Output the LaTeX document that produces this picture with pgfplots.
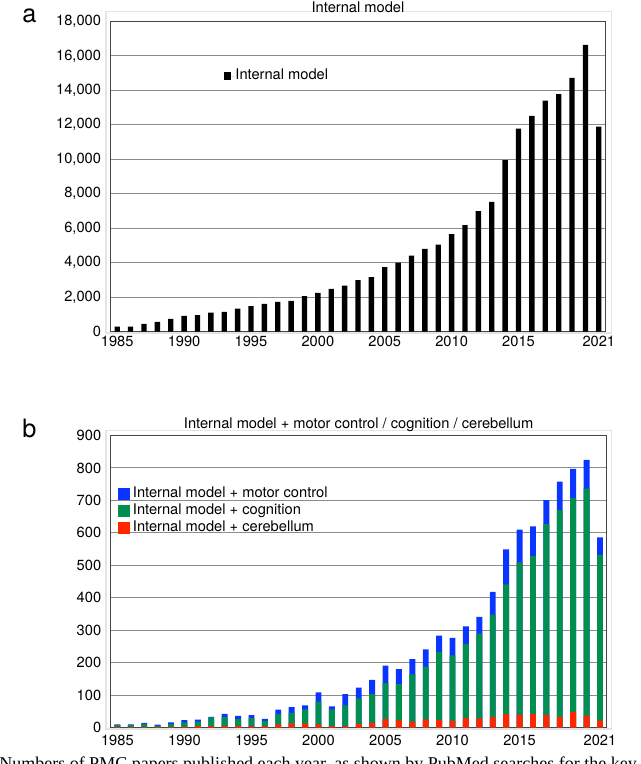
\documentclass[border=0pt]{standalone}
\usepackage{pgfplots}
\usepackage{pgfplotstable}
\pgfplotsset{compat=1.18}
\usepackage{fontspec}
\setmainfont{TeX Gyre Heros}
\newfontfamily\captionserif{Liberation Serif}

\definecolor{imBlue}{RGB}{10,52,255}
\definecolor{imGreen}{RGB}{0,143,78}
\definecolor{imRed}{RGB}{255,38,0}
\definecolor{gridgray}{RGB}{140,140,140}
\definecolor{framegray}{RGB}{70,70,70}
\definecolor{outergray}{RGB}{228,228,228}

% PMC papers per year, "internal model"
\pgfplotstableread{
year count
1985 290
1986 290
1987 445
1988 560
1989 735
1990 910
1991 950
1992 1100
1993 1140
1994 1335
1995 1470
1996 1605
1997 1720
1998 1780
1999 2050
2000 2245
2001 2475
2002 2670
2003 2980
2004 3155
2005 3735
2006 4005
2007 4410
2008 4800
2009 5050
2010 5650
2011 6175
2012 6985
2013 7530
2014 9950
2015 11785
2016 12520
2017 13410
2018 13780
2019 14730
2020 16645
2021 11900
}\internalmodel

% "internal model" combined with a second keyword
\pgfplotstableread{
year motor cognition cerebellum
1985 10 7 3
1986 10 7 2
1987 14 11 2
1988 9 6 2
1989 16 11 2
1990 23 16 3
1991 24 18 4
1992 33 31 4
1993 42 32 6
1994 36 26 5
1995 38 30 5
1996 27 20 4
1997 55 41 10
1998 63 45 13
1999 68 56 13
2000 108 80 10
2001 65 56 4
2002 103 68 5
2003 123 90 12
2004 147 104 14
2005 191 137 27
2006 180 134 22
2007 211 164 18
2008 241 188 25
2009 283 233 23
2010 276 222 21
2011 312 257 29
2012 341 289 28
2013 418 348 33
2014 549 441 41
2015 610 509 39
2016 620 529 41
2017 701 627 38
2018 758 670 33
2019 797 707 48
2020 825 736 37
2021 586 532 21
}\combined

\pgfplotsset{
  yearpanel/.style={
    scale only axis,
    xmin=1984.5, xmax=2021.5, ymin=0,
    xtick={1985,1990,1995,2000,2005,2010,2015,2021},
    x tick label style={/pgf/number format/1000 sep={}},
    scaled y ticks=false,
    major tick length=0pt,
    ymajorgrids,
    grid style={gridgray, line width=0.75pt},
    axis line style={framegray, line width=0.75pt},
    tick label style={font=\fontsize{11}{13}\selectfont},
    y tick label style={xshift=-3.6pt},
    /pgf/number format/assume math mode=true,
    legend cell align=left,
    legend style={draw=none, fill=none, inner sep=0pt,
      font=\fontsize{11}{13}\selectfont,
      nodes={inner sep=1pt, text height=8.3pt, text depth=2.5pt}},
  },
}

\begin{document}
\begin{tikzpicture}
  % light chart-area frames
  \draw[outergray, line width=0.9pt] (79.5pt,-8.8pt) rectangle (458.8pt,-249.75pt);
  \draw[outergray, line width=0.9pt] (79.5pt,-323pt) rectangle (458.8pt,-546.75pt);

  % panel a
  \begin{axis}[yearpanel,
      at={(82.875pt,-248.625pt)}, anchor=south west,
      width=371.25pt, height=232.5pt,
      ymax=18000, ytick={0,2000,...,18000},
      y tick label style={/pgf/number format/.cd, fixed, 1000 sep={,}},
      legend style={at={(0.229,0.824)}, anchor=west}]
    \addplot[ybar, bar width=0.4, bar shift=0pt, fill=black, draw=none,
      legend image code/.code={\fill[black] (0pt,-2.75pt) rectangle (5.5pt,2.75pt); \path (0pt,0pt) -- (7.5pt,0pt);}]
      table[x=year, y=count] {\internalmodel};
    \addlegendentry{Internal model}
  \end{axis}

  % panel b
  \begin{axis}[yearpanel,
      at={(83.025pt,-545.625pt)}, anchor=south west,
      width=372pt, height=219pt,
      ymax=900, ytick={0,100,...,900},
      x tick label style={yshift=-1.8pt},
      legend style={at={(0.0147,0.83)}, anchor=north west}]
    \addplot[ybar, bar width=0.44, bar shift=0pt, fill=imBlue, draw=none,
      legend image code/.code={\fill[imBlue] (0pt,-4.25pt) rectangle (8.5pt,4.25pt); \path (0pt,0pt) -- (10pt,0pt);}]
      table[x=year, y=motor] {\combined};
    \addlegendentry{Internal model + motor control}
    \addplot[ybar, bar width=0.44, bar shift=0pt, fill=imGreen, draw=none,
      legend image code/.code={\fill[imGreen] (0pt,-4.25pt) rectangle (8.5pt,4.25pt); \path (0pt,0pt) -- (10pt,0pt);}]
      table[x=year, y=cognition] {\combined};
    \addlegendentry{Internal model + cognition}
    \addplot[ybar, bar width=0.44, bar shift=0pt, fill=imRed, draw=none,
      legend image code/.code={\fill[imRed] (0pt,-4.25pt) rectangle (8.5pt,4.25pt); \path (0pt,0pt) -- (10pt,0pt);}]
      table[x=year, y=cerebellum] {\combined};
    \addlegendentry{Internal model + cerebellum}
  \end{axis}

  % titles and panel letters
  \node[anchor=base, font=\fontsize{11}{13}\selectfont, inner sep=0pt] at (268.5pt,-9pt) {Internal model};
  \node[anchor=base, font=\fontsize{11}{13}\selectfont, inner sep=0pt] at (269pt,-321pt) {Internal model + motor control / cognition / cerebellum};
  \node[anchor=base, font=\fontsize{19}{22}\selectfont, inner sep=0pt] at (22.1pt,-16.5pt) {a};
  \node[anchor=base, font=\fontsize{19}{22}\selectfont, inner sep=0pt] at (22.1pt,-327.75pt) {b};

  % caption line running below the figure
  \node[anchor=base west, font=\captionserif\fontsize{13.5}{16}\selectfont, inner sep=0pt] at (-0.75pt,-577pt)
    {Numbers of PMC papers published each year, as shown by PubMed searches for the key};

  \pgfresetboundingbox
  \useasboundingbox (0pt,0pt) rectangle (480pt,-573pt);
\end{tikzpicture}
\end{document}
